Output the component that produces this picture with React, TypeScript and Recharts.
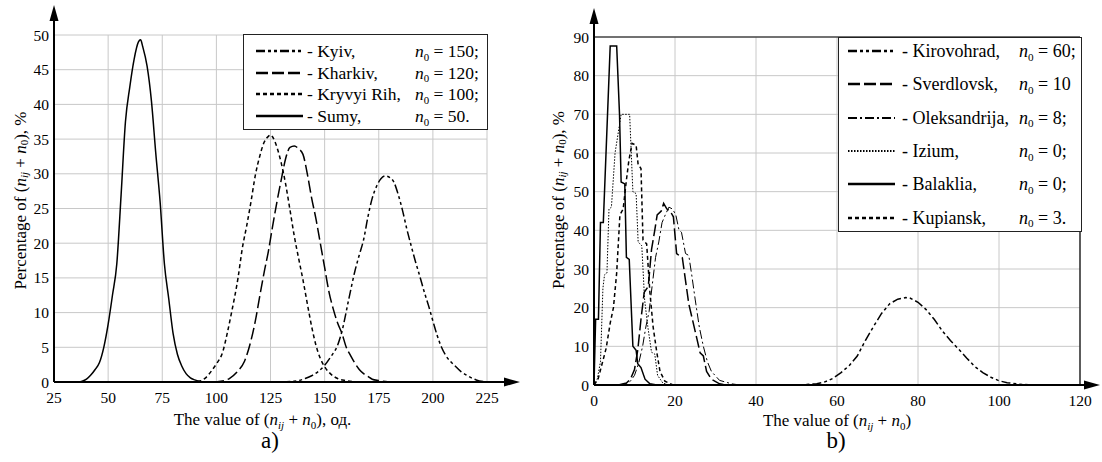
import { CartesianGrid, Label, Line, LineChart, ReferenceLine, XAxis, YAxis } from "recharts";

const FONT = '"Liberation Serif", Tinos, "Times New Roman", "DejaVu Serif", "Noto Serif", serif';

// a) big cities
const kyivX = [130, 135, 138, 141, 144, 147, 150, 153, 156, 158, 161, 164, 166, 168, 170, 172, 174, 176, 178, 180, 182, 184, 186, 188, 190, 192, 194, 196, 198, 200, 202, 204, 206, 208, 210, 213, 216, 220, 225];
const kyivY = [0, 0.1, 0.2, 0.5, 0.9, 1.5, 2.4, 3.7, 5.3, 7.3, 11.7, 16, 18.3, 20.5, 23.8, 26.5, 28.2, 29.3, 29.7, 29.5, 28.8, 27, 24.7, 22, 19.6, 17.3, 15.2, 13, 11, 8.8, 6.7, 5, 3.8, 3, 2.4, 1.5, 0.9, 0.3, 0];
const kharkivX = [98, 102, 106, 110, 113, 116, 118, 120, 122, 124, 126, 128, 130, 132, 134, 136, 138, 140, 142, 144, 146, 148, 150, 152, 154, 156, 158, 160, 162, 164, 166, 168, 170, 172, 175, 180];
const kharkivY = [0, 0.1, 0.5, 1.6, 3, 6, 8.8, 12.3, 15.7, 18.8, 22.5, 26, 29.2, 32.2, 33.8, 34.0, 33.6, 32.8, 30, 26.5, 23.5, 20, 16.5, 13, 10.5, 8.5, 7, 5, 3.8, 2.7, 1.8, 1.2, 0.8, 0.4, 0.2, 0];
const kryvyiX = [88, 92, 95, 98, 100, 103, 105, 107, 110, 112, 114, 116, 118, 120, 122, 124, 125, 126, 128, 130, 132, 134, 136, 138, 140, 142, 144, 146, 148, 150, 153, 156, 160, 165];
const kryvyiY = [0, 0.1, 0.6, 1.7, 2.6, 4.4, 7, 10, 15, 19.3, 22.5, 26, 29.8, 32.5, 34.5, 35.4, 35.6, 35.3, 33.8, 31.5, 28.5, 24.8, 21, 17.8, 14.7, 11.3, 8, 5.3, 3.4, 2.2, 1.1, 0.5, 0.2, 0];
const sumyX = [36, 38, 40, 42, 44, 46, 48, 50, 52, 54, 56, 58, 60, 62, 64, 65, 66, 68, 70, 72, 74, 76, 78, 80, 82, 84, 86, 88, 90, 92, 95];
const sumyY = [0, 0.1, 0.4, 1.0, 1.8, 2.8, 5, 8.3, 12.5, 17, 27, 37.5, 42.5, 46.5, 49, 49.3, 48.3, 45.5, 40.5, 33, 26, 17, 12, 7, 4, 2.3, 1.2, 0.6, 0.3, 0.1, 0];

// b) small towns
const kirovohradX = [48, 52, 55, 57, 59, 61, 63, 65, 67, 69, 71, 73, 75, 77, 78, 80, 82, 84, 86, 88, 90, 92, 94, 96, 98, 100, 102, 105, 108];
const kirovohradY = [0, 0.1, 0.3, 0.8, 1.7, 3.2, 5, 7.5, 11.5, 15.1, 18.5, 21, 22.2, 22.6, 22.5, 21.4, 19.5, 17, 14, 11.5, 9.3, 7, 4.8, 3.2, 2, 1.1, 0.6, 0.2, 0];
const sverdlovskX = [6, 8, 9, 10, 10.8, 11.6, 12.4, 13.4, 14.2, 15.0, 15.6, 16.6, 17.2, 18.0, 18.8, 19.6, 20.4, 21.0, 21.8, 22.6, 23.4, 24.4, 25.4, 26.2, 27.0, 27.8, 29.0, 31.0, 33.0];
const sverdlovskY = [0, 0.5, 1.5, 4, 9, 17, 24, 25.5, 35, 40, 44, 45, 47, 45.5, 45, 43.5, 34, 33.5, 33, 27, 21, 16.5, 12, 8.3, 7.5, 3.5, 1.5, 0.3, 0];
const oleksX = [6, 8, 9, 10, 11, 12, 12.8, 13.6, 14.4, 15.2, 16.0, 16.8, 17.6, 18.5, 19.4, 20.2, 21.0, 21.6, 22.6, 23.4, 24.2, 25.0, 26.0, 27.0, 28.0, 29.0, 31.0, 34.0, 36.0];
const oleksY = [0, 0.3, 1, 2.5, 5.5, 10, 15, 19, 26, 33, 37, 42, 44, 46, 45.5, 44, 40, 39.5, 34, 33.5, 28, 22, 15, 10, 6, 3.5, 1.2, 0.3, 0];
const iziumX = [0, 0.8, 1.6, 2.2, 2.6, 3.2, 3.7, 4.3, 5.2, 6.7, 8.8, 9.6, 10.4, 10.9, 11.8, 12.5, 13.3, 14.2, 15.0, 15.7, 17.0, 18.5];
const iziumY = [0, 1.5, 6, 25, 28.5, 29, 45.5, 46, 60, 70, 70, 50, 49.5, 37, 36, 22, 15, 8.5, 8, 2.5, 0.5, 0];
const balakliaX = [0, 0.4, 1.1, 1.6, 2.3, 4.0, 5.6, 6.3, 6.7, 7.6, 8.0, 8.7, 9.6, 10.4, 10.8, 11.6, 12.6, 13.8, 15.5];
const balakliaY = [0, 17, 17, 42, 42, 87.7, 87.7, 70, 52.5, 52, 33, 32.5, 10, 9, 5.5, 4.5, 1.5, 0.3, 0];
const kupianskX = [0, 1, 2, 3, 4, 4.8, 5.6, 6.4, 7.2, 8.0, 8.6, 9.4, 10.4, 10.9, 11.6, 12.1, 13.0, 13.8, 14.6, 15.5, 16.3, 17.5, 19.5];
const kupianskY = [0, 1.5, 5.5, 9.5, 16, 20, 29, 44, 45.5, 53, 58, 62.5, 62, 57, 56, 37.5, 36.5, 24, 15, 8.5, 3.5, 1, 0];

const ticksA = [25, 50, 75, 100, 125, 150, 175, 200, 225];
const ticksAY = [0, 5, 10, 15, 20, 25, 30, 35, 40, 45, 50];
const ticksB = [0, 20, 40, 60, 80, 100, 120];
const ticksBY = [0, 10, 20, 30, 40, 50, 60, 70, 80, 90];

type Series = { name: string; n0: string; xs: number[]; ys: number[]; dash?: string; width: number };

const seriesA: Series[] = [
    { name: "- Kyiv,", n0: "150;", xs: kyivX, ys: kyivY, dash: "9 3 3 3 3 3", width: 1.5 },
    { name: "- Kharkiv,", n0: "120;", xs: kharkivX, ys: kharkivY, dash: "12 4", width: 1.5 },
    { name: "- Kryvyi Rih,", n0: "100;", xs: kryvyiX, ys: kryvyiY, dash: "4 3", width: 1.5 },
    { name: "- Sumy,", n0: "50.", xs: sumyX, ys: sumyY, width: 1.5 },
];

const seriesB: Series[] = [
    { name: "- Kirovohrad,", n0: "60;", xs: kirovohradX, ys: kirovohradY, dash: "9 3 3 3 3 3", width: 1.5 },
    { name: "- Sverdlovsk,", n0: "10", xs: sverdlovskX, ys: sverdlovskY, dash: "12 4", width: 1.5 },
    { name: "- Oleksandrija,", n0: "8;", xs: oleksX, ys: oleksY, dash: "9 3 2 3", width: 1 },
    { name: "- Izium,", n0: "0;", xs: iziumX, ys: iziumY, dash: "1.5 1.5", width: 1 },
    { name: "- Balaklia,", n0: "0;", xs: balakliaX, ys: balakliaY, width: 1.5 },
    { name: "- Kupiansk,", n0: "3.", xs: kupianskX, ys: kupianskY, dash: "4 3", width: 1.5 },
];

const toPoints = (xs: number[], ys: number[]) => xs.map((x, i) => ({ x, y: ys[i] }));

// axis line end: extension + filled head
const Arrow = ({ id, len }: { id: string; len: number }) => (
    <marker id={id} markerUnits="userSpaceOnUse" markerWidth={len + 2} markerHeight={12} refX={0} refY={6} orient="auto-start-reverse" overflow="visible">
        <line x1={0} y1={6} x2={len - 10} y2={6} stroke="#000" strokeWidth={2} />
        <path d={`M${len - 16},1.5 L${len},6 L${len - 16},10.5 Z`} fill="#000" />
    </marker>
);

const SubText = ({ suffix }: { suffix: string }) => (
    <>
        <tspan>(</tspan>
        <tspan fontStyle="italic">n</tspan>
        <tspan fontStyle="italic" fontSize={11} dy={4}>ij</tspan>
        <tspan dy={-4}> + </tspan>
        <tspan fontStyle="italic">n</tspan>
        <tspan fontSize={11} dy={4}>0</tspan>
        <tspan dy={-4}>){suffix}</tspan>
    </>
);

const xTitle = (suffix: string, shift: number, dy: number) => (props: any) => {
    const { x, y, width } = props.viewBox;
    return (
        <text x={x + width / 2 + shift} y={y + dy} textAnchor="middle" fontFamily={FONT} fontSize={17} fill="#000">
            <tspan>The value of </tspan>
            <SubText suffix={suffix} />
        </text>
    );
};

const yTitle = (dx: number, shift: number) => (props: any) => {
    const { x, y, height } = props.viewBox;
    const cx = x + dx;
    const cy = y + height / 2 + shift;
    return (
        <text x={cx} y={cy} transform={`rotate(-90 ${cx} ${cy})`} textAnchor="middle" dominantBaseline="central" fontFamily={FONT} fontSize={17} fill="#000">
            <tspan>Percentage of </tspan>
            <SubText suffix=", %" />
        </text>
    );
};

const tickStyle = { fill: "#000", fontSize: 15.5, fontFamily: FONT };

const Sample = ({ s }: { s: Series }) => (
    <svg width={47} height={10} style={{ display: "block" }}>
        <line x1={0} y1={5} x2={47} y2={5} stroke="#000" strokeWidth={s.width + 0.8} strokeDasharray={s.dash} />
    </svg>
);

const LegendBox = ({ items, left, top, width, height, first, step, sampleX, textX, nX, fontSize }: any) => (
    <div style={{ position: "absolute", left, top, width, height, border: "1.5px solid #222", background: "#fff", boxSizing: "border-box", fontFamily: FONT, fontSize, color: "#000" }}>
        {items.map((s: Series, i: number) => (
            <div key={s.name} style={{ position: "absolute", top: first + i * step - 12, height: 24, left: 0, right: 0, lineHeight: "24px" }}>
                <div style={{ position: "absolute", left: sampleX, top: 7 }}>
                    <Sample s={s} />
                </div>
                <span style={{ position: "absolute", left: textX, whiteSpace: "nowrap" }}>{s.name}</span>
                <span style={{ position: "absolute", left: nX, whiteSpace: "nowrap" }}>
                    <i>n</i>
                    <span style={{ fontSize: "0.62em", position: "relative", top: "0.35em" }}>0</span> = {s.n0}
                </span>
            </div>
        ))}
    </div>
);

const Panel = ({ left, width, margin, xDomain, xTicks, yDomain, yTicks, series, curve, xLabel, yLabel, xArrow, yArrow, frame }: any) => (
    <div style={{ position: "absolute", left, top: 0 }}>
        <LineChart width={width} height={462} margin={margin}>
            <CartesianGrid stroke="#c8c8c8" strokeWidth={1} />
            <XAxis
                type="number"
                dataKey="x"
                domain={xDomain}
                ticks={xTicks}
                interval={0}
                allowDataOverflow
                tickLine={false}
                tickSize={0}
                tickMargin={10}
                height={45}
                tick={tickStyle}
                axisLine={{ stroke: "#000", strokeWidth: 2, markerEnd: `url(#${xArrow})` }}
            >
                <Label content={xLabel} />
            </XAxis>
            <YAxis
                type="number"
                domain={yDomain}
                ticks={yTicks}
                interval={0}
                allowDataOverflow
                tickLine={false}
                tickSize={0}
                tickMargin={5}
                width={40}
                tick={tickStyle}
                axisLine={{ stroke: "#000", strokeWidth: 2, markerStart: `url(#${yArrow})` }}
            >
                <Label content={yLabel} />
            </YAxis>
            {frame && <ReferenceLine y={yDomain[1]} stroke="#000" strokeWidth={1.2} />}
            {frame && <ReferenceLine x={xDomain[1]} stroke="#000" strokeWidth={1.2} />}
            {series.map((s: Series) => (
                <Line
                    key={s.name}
                    data={toPoints(s.xs, s.ys)}
                    dataKey="y"
                    type={curve}
                    stroke="#000"
                    strokeWidth={s.width}
                    strokeDasharray={s.dash}
                    dot={false}
                    activeDot={false}
                    isAnimationActive={false}
                />
            ))}
        </LineChart>
    </div>
);

export default function App() {
    return (
        <div style={{ position: "absolute", left: 0, top: 0, width: 1102, height: 462, background: "#fff", overflow: "hidden", fontFamily: FONT }}>
            <svg width={0} height={0} style={{ position: "absolute" }}>
                <defs>
                    <Arrow id="arrowAX" len={33} />
                    <Arrow id="arrowAY" len={30} />
                    <Arrow id="arrowBX" len={20} />
                    <Arrow id="arrowBY" len={29} />
                </defs>
            </svg>
            <Panel
                left={0}
                width={540}
                margin={{ top: 35, right: 53, bottom: 35, left: 14 }}
                xDomain={[25, 225]}
                xTicks={ticksA}
                yDomain={[0, 50]}
                yTicks={ticksAY}
                series={seriesA}
                curve="monotone"
                xLabel={xTitle(", од.", -8, 43)}
                yLabel={yTitle(6, -8)}
                xArrow="arrowAX"
                yArrow="arrowAY"
                frame={false}
            />
            <Panel
                left={550}
                width={552}
                margin={{ top: 37, right: 22, bottom: 32, left: 4 }}
                xDomain={[0, 120]}
                xTicks={ticksB}
                yDomain={[0, 90]}
                yTicks={ticksBY}
                series={seriesB}
                curve="linear"
                xLabel={xTitle("", 0, 41)}
                yLabel={yTitle(4, -11)}
                xArrow="arrowBX"
                yArrow="arrowBY"
                frame={true}
            />
            <LegendBox items={seriesA} left={243} top={34} width={245} height={96} first={16} step={21.7} sampleX={12} textX={63} nX={171} fontSize={17.5} />
            <LegendBox items={seriesB} left={838} top={37} width={244} height={195} first={13} step={33.3} sampleX={9} textX={63} nX={180} fontSize={18} />
            <div style={{ position: "absolute", left: 250, top: 430, width: 40, textAlign: "center", fontSize: 23, lineHeight: "22px" }}>a)</div>
            <div style={{ position: "absolute", left: 816, top: 430, width: 40, textAlign: "center", fontSize: 23, lineHeight: "22px" }}>b)</div>
        </div>
    );
}
